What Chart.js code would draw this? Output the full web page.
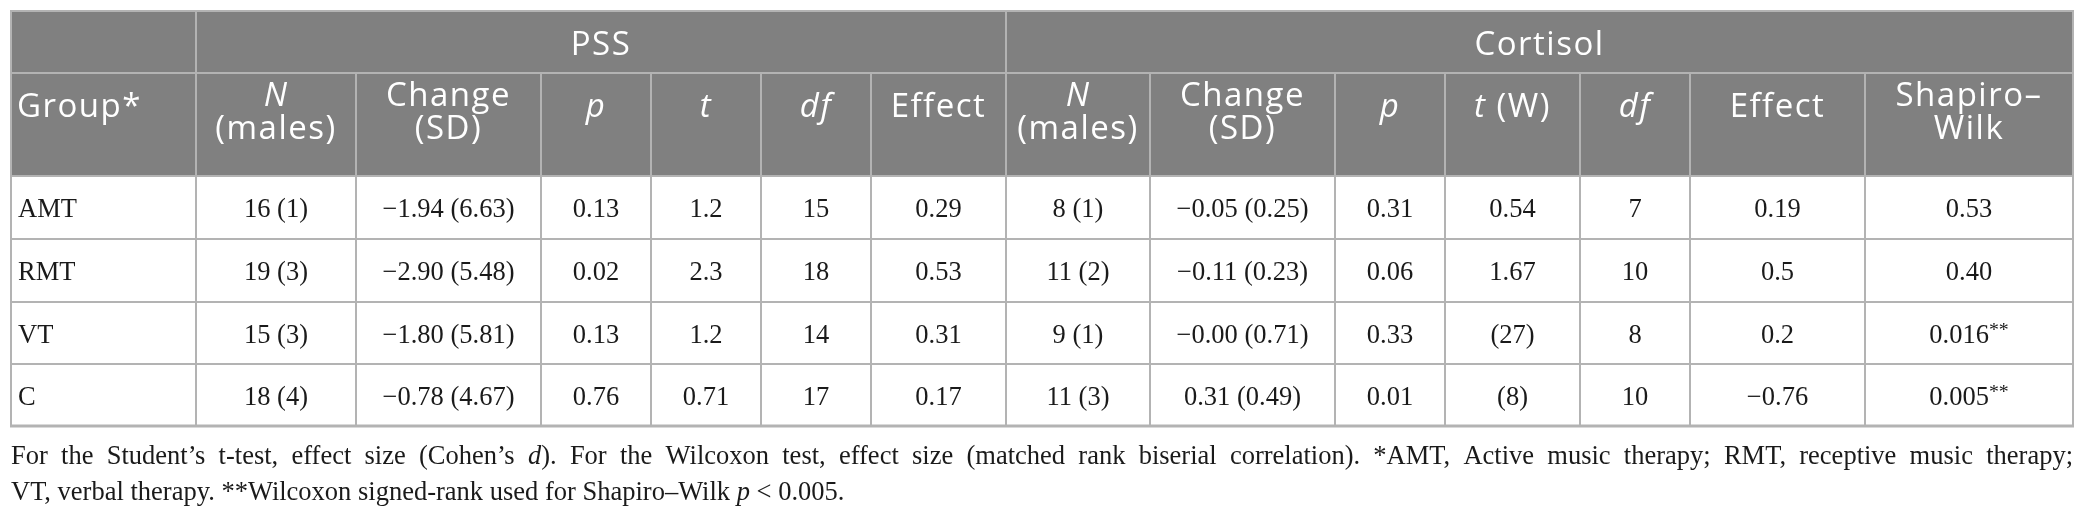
<!DOCTYPE html>
<html>
<head>
<meta charset="utf-8">
<style>
  html, body { margin: 0; padding: 0; background: #fff; }
</style>
<script src="https://cdn.jsdelivr.net/npm/chart.js@4.4.1/dist/chart.umd.min.js"></script>
</head>
<body>
<canvas id="tbl" width="2087" height="524"></canvas>
<script>
'use strict';

// table values, one array per column (_x_ = italic, ^x^ = superscript)
const groups = ['AMT', 'RMT', 'VT', 'C'];
const pssN = ['16 (1)', '19 (3)', '15 (3)', '18 (4)'];
const pssChange = ['−1.94 (6.63)', '−2.90 (5.48)', '−1.80 (5.81)', '−0.78 (4.67)'];
const pssP = ['0.13', '0.02', '0.13', '0.76'];
const pssT = ['1.2', '2.3', '1.2', '0.71'];
const pssDf = ['15', '18', '14', '17'];
const pssEffect = ['0.29', '0.53', '0.31', '0.17'];
const cortN = ['8 (1)', '11 (2)', '9 (1)', '11 (3)'];
const cortChange = ['−0.05 (0.25)', '−0.11 (0.23)', '−0.00 (0.71)', '0.31 (0.49)'];
const cortP = ['0.31', '0.06', '0.33', '0.01'];
const cortT = ['0.54', '1.67', '(27)', '(8)'];
const cortDf = ['7', '10', '8', '10'];
const cortEffect = ['0.19', '0.5', '0.2', '−0.76'];
const shapiro = ['0.53', '0.40', '0.016^**^', '0.005^**^'];

const spanHeads = ['PSS', 'Cortisol'];
const colHeads = [
    ['Group*'],
    ['_N_', '(males)'],
    ['Change', '(SD)'],
    ['_p_'],
    ['_t_'],
    ['_df_'],
    ['Effect'],
    ['_N_', '(males)'],
    ['Change', '(SD)'],
    ['_p_'],
    ['_t_ (W)'],
    ['_df_'],
    ['Effect'],
    ['Shapiro–', 'Wilk']
];
const footnote = [
    'For the Student’s t-test, effect size (Cohen’s _d_). For the Wilcoxon test, effect size (matched rank biserial correlation). *AMT, Active music therapy; RMT, receptive music therapy;',
    'VT, verbal therapy. **Wilcoxon signed-rank used for Shapiro–Wilk _p_ < 0.005.'
];

const columns = [groups, pssN, pssChange, pssP, pssT, pssDf, pssEffect,
    cortN, cortChange, cortP, cortT, cortDf, cortEffect, shapiro];

// layout, in frame units (the scales map 0..2087 x 0..524)
const colEdges = [11, 196, 356, 541, 651, 761, 871, 1006, 1150, 1335, 1445, 1580, 1690, 1865, 2073];
const rowEdges = [11, 73, 176, 239, 302, 364, 426];
const spanCols = [[1, 7], [7, 14]];

const HEAD_FONT = '"Open Sans"';
const HEAD_SIZE = 33;
const BODY_FONT = '"Liberation Serif"';

const parseRich = str => {
    const runs = [];
    let italic = false, sup = false, buf = '';
    const push = () => { if (buf) runs.push({ text: buf, italic, sup }); buf = ''; };
    for (const ch of str) {
        if (ch === '_') { push(); italic = !italic; }
        else if (ch === '^') { push(); sup = !sup; }
        else buf += ch;
    }
    push();
    return runs;
};

const runFont = (run, size, family) =>
    (run.italic ? 'italic ' : '') + (run.sup ? size * 0.75 : size) + 'px ' + family;

const richWidth = (ctx, runs, size, family) => {
    let w = 0;
    runs.forEach(r => { ctx.font = runFont(r, size, family); w += ctx.measureText(r.text).width; });
    return w;
};

// draws rich text, returns width
const drawRich = (ctx, str, x, y, align, size, family) => {
    const runs = parseRich(str);
    const w = richWidth(ctx, runs, size, family);
    let cx = align === 'center' ? x - w / 2 : x;
    ctx.textAlign = 'left';
    ctx.textBaseline = 'alphabetic';
    runs.forEach(r => {
        ctx.font = runFont(r, size, family);
        ctx.fillText(r.text, cx, r.sup ? y - size * 0.28 : y);
        cx += ctx.measureText(r.text).width;
    });
    return w;
};

// justified line: spread spare room over the word gaps
const drawJustified = (ctx, str, x0, x1, y, size, family) => {
    const words = str.split(' ');
    ctx.font = size + 'px ' + family;
    const space = ctx.measureText(' ').width;
    const widths = words.map(wd => richWidth(ctx, parseRich(wd), size, family));
    const total = widths.reduce((a, b) => a + b, 0) + space * (words.length - 1);
    const gap = space + (x1 - x0 - total) / (words.length - 1);
    let cx = x0;
    words.forEach((wd, i) => {
        drawRich(ctx, wd, cx, y, 'left', size, family);
        cx += widths[i] + gap;
    });
};

const tablePlugin = {
    id: 'tablePlugin',
    afterDraw(chart) {
        const ctx = chart.ctx;
        const X = v => chart.scales.x.getPixelForValue(v);
        const Y = v => chart.scales.y.getPixelForValue(v);
        const left = X(colEdges[0]), right = X(colEdges[colEdges.length - 1]);
        ctx.save();

        // header background
        ctx.fillStyle = '#808080';
        ctx.fillRect(left, Y(rowEdges[0]), right - left, Y(rowEdges[2]) - Y(rowEdges[0]));

        // grid lines
        ctx.strokeStyle = '#b3b3b3';
        rowEdges.forEach((r, i) => {
            ctx.lineWidth = i === rowEdges.length - 1 ? 3 : 2;
            ctx.beginPath();
            ctx.moveTo(left - 1, Y(r));
            ctx.lineTo(right + 1, Y(r));
            ctx.stroke();
        });
        ctx.lineWidth = 2;
        colEdges.forEach((c, i) => {
            const full = i === 0 || i === 1 || i === 7 || i === colEdges.length - 1;
            ctx.beginPath();
            ctx.moveTo(X(c), Y(full ? rowEdges[0] : rowEdges[1]));
            ctx.lineTo(X(c), Y(rowEdges[rowEdges.length - 1]));
            ctx.stroke();
        });

        // spanning headers
        ctx.fillStyle = '#ffffff';
        ctx.letterSpacing = '1.5px';
        spanHeads.forEach((h, i) => {
            const [a, b] = spanCols[i];
            drawRich(ctx, h, (X(colEdges[a]) + X(colEdges[b])) / 2, Y(rowEdges[0] + 44), 'center', HEAD_SIZE, HEAD_FONT);
        });

        // column headers
        colHeads.forEach((lines, i) => {
            const cx = i === 0 ? X(colEdges[0]) + 6 : (X(colEdges[i]) + X(colEdges[i + 1])) / 2;
            const align = i === 0 ? 'left' : 'center';
            if (lines.length === 1) {
                drawRich(ctx, lines[0], cx, Y(rowEdges[1] + 44), align, HEAD_SIZE, HEAD_FONT);
            } else {
                lines.forEach((ln, k) => {
                    drawRich(ctx, ln, cx, Y(rowEdges[1] + 33 + k * 33), align, HEAD_SIZE, HEAD_FONT);
                });
            }
        });
        ctx.letterSpacing = '0px';

        // body cells
        ctx.fillStyle = '#1a1a1a';
        columns.forEach((col, i) => {
            const cx = i === 0 ? X(colEdges[0]) + 7 : (X(colEdges[i]) + X(colEdges[i + 1])) / 2;
            col.forEach((v, r) => {
                drawRich(ctx, v, cx, Y(rowEdges[r + 2] + 41), i === 0 ? 'left' : 'center', 26.5, BODY_FONT);
            });
        });

        // footnote
        drawJustified(ctx, footnote[0], left, right, Y(464), 26.5, BODY_FONT);
        drawRich(ctx, footnote[1], left, Y(500), 'left', 26.5, BODY_FONT);

        ctx.restore();
    }
};

new Chart(document.getElementById('tbl'), {
    type: 'scatter',
    data: { datasets: [{ data: [] }] },
    options: {
        responsive: false,
        animation: false,
        devicePixelRatio: 1,
        layout: { padding: 0 },
        plugins: { legend: { display: false }, tooltip: { enabled: false } },
        scales: {
            x: { type: 'linear', display: false, min: 0, max: 2087 },
            y: { type: 'linear', display: false, min: 0, max: 524, reverse: true }
        }
    },
    plugins: [tablePlugin]
});
</script>
</body>
</html>
